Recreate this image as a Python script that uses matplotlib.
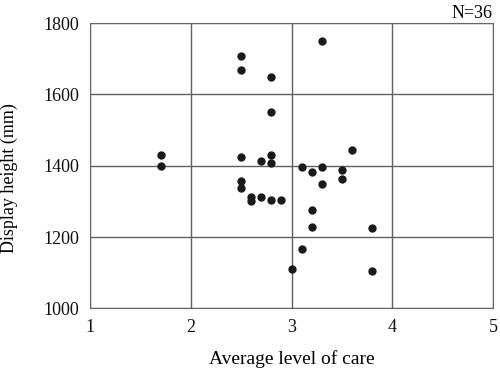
import matplotlib.pyplot as plt

plt.rcParams['font.family'] = ['Liberation Serif', 'DejaVu Serif']

# average level of care vs display height
care = [1.7, 1.7,
        2.5, 2.5, 2.5, 2.5, 2.5,
        2.6, 2.6,
        2.7, 2.7,
        2.8, 2.8, 2.8, 2.8, 2.8,
        2.9, 3.0,
        3.1, 3.1,
        3.2, 3.2, 3.2,
        3.3, 3.3, 3.3,
        3.5, 3.5,
        3.6,
        3.8, 3.8]
height = [1430, 1400,
          1708, 1668, 1424, 1356, 1338,
          1313, 1300,
          1412, 1313,
          1648, 1550, 1429, 1408, 1305,
          1303, 1111,
          1397, 1166,
          1382, 1276, 1227,
          1750, 1397, 1349,
          1387, 1362,
          1443,
          1224, 1106]

fig = plt.figure(figsize=(5, 3.72), dpi=100)
ax = fig.add_axes([0.18, 0.171, 0.806, 0.767])
ax.scatter(care, height, s=36, color="#1a1a1a", zorder=3, linewidths=0)
ax.set_xlim(1, 5); ax.set_ylim(1000, 1800)
ax.set_xticks([1, 2, 3, 4, 5])
ax.set_yticks([1000, 1200, 1400, 1600, 1800])
ax.grid(True, color="#606060", linewidth=1.0)
for s in ax.spines.values():
    s.set_color("#666666")
ax.tick_params(length=0, labelsize=13, pad=8, colors="#111111")
ax.set_xlabel("Average level of care", fontsize=14, labelpad=10)
ax.set_ylabel("Display height (mm)", fontsize=13)
ax.yaxis.set_label_coords(-0.178, 0.456)
ax.text(1.0, 1.005, "N=36", transform=ax.transAxes, ha="right", va="bottom", fontsize=13)
fig.savefig("out.png")
